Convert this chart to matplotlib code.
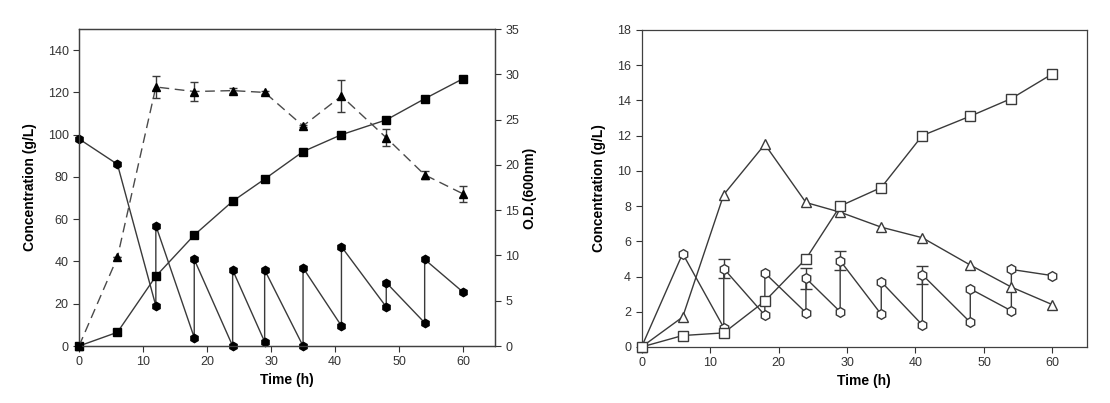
import numpy as np
import matplotlib.pyplot as plt

plt.rcParams['font.family'] = ['Liberation Sans', 'DejaVu Sans']

# ---- left panel data ----
time = [0, 6, 12, 18, 24, 29, 35, 41, 48, 54, 60]

# product (filled squares, left axis)
prod_a = [0, 6.5, 33, 52.5, 68.5, 79, 92, 100, 107, 117, 126.5]

# glucose with fed-batch feeding (filled circles, left axis)
glc_t = [0, 6, 12, 12, 18, 18, 24, 24, 29, 29, 35, 35, 41, 41, 48, 48, 54, 54, 60]
glc_a = [98, 86, 19, 57, 4, 41, 0, 36, 2, 36, 0, 37, 9.5, 47, 18.5, 30, 11, 41, 25.5]

# O.D. 600nm (filled triangles, right axis)
od = [0, 9.8, 28.6, 28.1, 28.2, 28.0, 24.3, 27.6, 23.0, 18.9, 16.8]
od_err = [0, 0, 1.2, 1.05, 0.25, 0.2, 0.15, 1.75, 0.93, 0.47, 0.88]

# ---- right panel data ----
prod_b = [0, 0.65, 0.8, 2.6, 5.0, 8.0, 9.05, 12.0, 13.1, 14.1, 15.5]
byp_b = [0, 1.7, 8.65, 11.5, 8.2, 7.65, 6.8, 6.2, 4.65, 3.4, 2.4]

sug_t = [0, 6, 12, 12, 18, 18, 24, 24, 29, 29, 35, 35, 41, 41, 48, 48, 54, 54, 60]
sug_b = [0, 5.3, 1.1, 4.45, 1.8, 4.2, 1.95, 3.9, 2.0, 4.9, 1.85, 3.7, 1.25, 4.1, 1.4, 3.3, 2.05, 4.4, 4.05]

sug_err_t = [12, 24, 29, 41]
sug_err_y = [4.45, 3.9, 4.9, 4.1]
sug_err = [0.55, 0.6, 0.55, 0.5]

line_c = '#3a3a3a'
text_c = '#333333'

fig = plt.figure(figsize=(11.1, 4.03), dpi=100)
ax = fig.add_axes([0.0712, 0.1414, 0.3748, 0.7866])
ax_r = ax.twinx()
bx = fig.add_axes([0.578, 0.139, 0.401, 0.787])

# left panel
ax.plot(glc_t, glc_a, color=line_c, lw=1, marker='h', ms=6,
        mfc='black', mec='black', clip_on=False, zorder=3)
ax.plot(time, prod_a, color=line_c, lw=1, marker='s', ms=5.5,
        mfc='black', mec='black', clip_on=False, zorder=3)
ax_r.plot(time, od, color='#4a4a4a', lw=1, ls=(0, (7, 4)), marker='^', ms=6,
          mfc='black', mec='black', clip_on=False, zorder=3)
ax_r.errorbar(time, od, yerr=od_err, fmt='none', ecolor=line_c,
              elinewidth=1, capsize=3, capthick=1)

ax.set_xlim(0, 65)
ax.set_ylim(0, 150)
ax_r.set_ylim(0, 35)
ax.set_xticks(range(0, 61, 10))
ax.set_yticks(range(0, 141, 20))
ax_r.set_yticks(range(0, 36, 5))
ax.set_xlabel('Time (h)', fontsize=10, fontweight='bold', labelpad=3)
ax.set_ylabel('Concentration (g/L)', fontsize=10, fontweight='bold', labelpad=8)
ax_r.set_ylabel('O.D.(600nm)', fontsize=10, fontweight='bold', labelpad=2)

# right panel
bx.plot(sug_t, sug_b, color=line_c, lw=1, marker='h', ms=7,
        mfc='white', mec=line_c, clip_on=False, zorder=3)
bx.plot(time, byp_b, color=line_c, lw=1, marker='^', ms=6.5,
        mfc='white', mec=line_c, clip_on=False, zorder=3)
bx.plot(time, prod_b, color=line_c, lw=1, marker='s', ms=6.5,
        mfc='white', mec=line_c, clip_on=False, zorder=3)
bx.errorbar(sug_err_t, sug_err_y, yerr=sug_err, fmt='none', ecolor=line_c,
            elinewidth=1, capsize=4, capthick=1)

bx.set_xlim(0, 65)
bx.set_ylim(0, 18)
bx.set_xticks(range(0, 61, 10))
bx.set_yticks(range(0, 19, 2))
bx.set_xlabel('Time (h)', fontsize=10, fontweight='bold', labelpad=3)
bx.set_ylabel('Concentration (g/L)', fontsize=10, fontweight='bold', labelpad=8)

for a in [ax, ax_r, bx]:
    a.tick_params(labelsize=9, colors=text_c, length=4, width=0.8, direction='out')
    for s in a.spines.values():
        s.set_color('#404040')
        s.set_linewidth(0.9)

plt.savefig('out.png', dpi=100)
